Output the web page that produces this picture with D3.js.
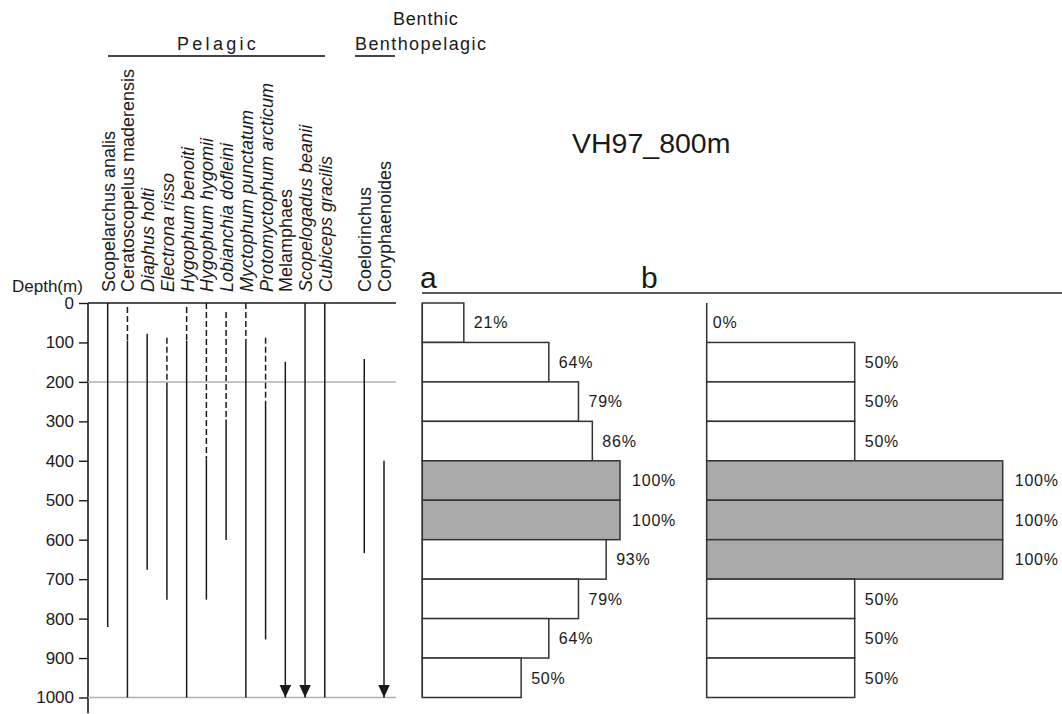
<!DOCTYPE html>
<html>
<head>
<meta charset="utf-8">
<script src="https://cdn.jsdelivr.net/npm/d3@7"></script>
<style>
  html, body { margin: 0; padding: 0; background: #fff; }
  svg { display: block; font-family: "Liberation Sans", Arial, sans-serif; }
</style>
</head>
<body>
<svg id="chart" width="1062" height="714"></svg>
<script>
// ---------- DATA ----------
const species = [
  "Scopelarchus analis", "Ceratoscopelus maderensis", "Diaphus holti", "Electrona risso",
  "Hygophum benoiti", "Hygophum hygomii", "Lobianchia dofleini", "Myctophum punctatum",
  "Protomyctophum arcticum", "Melamphaes", "Scopelogadus beanii", "Cubiceps gracilis",
  "Coelorinchus", "Coryphaenoides"
];
const speciesSlot   = [0, 1, 2, 3, 4, 5, 6, 7, 8, 9, 10, 11, 13, 14];
const speciesItalic = [false, false, true, true, true, true, true, true, true, false, true, true, false, false];
// dashed (uncertain) depth range, null if none
const dashedStart = [null, 10, null, 88, 10, 0, 23, 0, 88, null, null, null, null, null];
const dashedEnd   = [null, 95, null, 215, 95, 397, 295, 98, 250, null, null, null, null, null];
// solid (confirmed) depth range
const solidStart  = [0, 95, 78, 215, 95, 397, 295, 98, 250, 149, 0, 0, 142, 400];
const solidEnd    = [821, 1000, 676, 752, 1000, 752, 601, 1000, 853, 1000, 1000, 1000, 634, 1000];
const hasArrow    = [false, false, false, false, false, false, false, false, false, true, true, false, false, true];

const depthTicks = [0, 100, 200, 300, 400, 500, 600, 700, 800, 900, 1000];
const greyLineDepths = [200, 1000];
const binStart = [0, 100, 200, 300, 400, 500, 600, 700, 800, 900];
const binEnd   = [100, 200, 300, 400, 500, 600, 700, 800, 900, 1000];
const valuesA  = [21, 64, 79, 86, 100, 100, 93, 79, 64, 50];
const valuesB  = [0, 50, 50, 50, 100, 100, 100, 50, 50, 50];

const title = "VH97_800m";

// ---------- SCALES ----------
const svg = d3.select("#chart");
const y = d3.scaleLinear().domain([0, 1000]).range([303, 697.5]);
const xSlot = d3.scaleLinear().domain([0, 14]).range([107.7, 384]);
const xa = d3.scaleLinear().domain([0, 100]).range([422.3, 620]);
const xb = d3.scaleLinear().domain([0, 100]).range([706.7, 1002.7]);

const ink = "#1a1a1a";

// ---------- LEFT PANEL: depth axis ----------
const axisG = svg.append("g").attr("transform", "translate(88,0)")
  .call(d3.axisLeft(y).tickValues(depthTicks).tickSize(9).tickPadding(5).tickFormat(d3.format("d")));
axisG.select(".domain").remove();
axisG.selectAll(".tick line").attr("stroke", ink).attr("stroke-width", 1.4);
axisG.selectAll(".tick text").attr("fill", ink).style("font-size", "17px")
  .style("font-family", "'Liberation Sans', Arial, sans-serif");
svg.append("line").attr("x1", 88).attr("x2", 88).attr("y1", y(0)).attr("y2", y(1040))
  .attr("stroke", ink).attr("stroke-width", 1.6);

svg.append("text").attr("x", 12).attr("y", 292).attr("fill", ink)
  .style("font-size", "17px").text("Depth(m)");

// horizontal reference lines
svg.append("line").attr("x1", 88).attr("x2", 396).attr("y1", y(0)).attr("y2", y(0))
  .attr("stroke", ink).attr("stroke-width", 1.5);
svg.selectAll("line.grey").data(greyLineDepths).enter().append("line")
  .attr("class", "grey")
  .attr("x1", 88).attr("x2", 396).attr("y1", d => y(d)).attr("y2", d => y(d))
  .attr("stroke", "#b0b0b0").attr("stroke-width", 1.5);

// arrow marker
svg.append("defs").append("marker")
  .attr("id", "arrow").attr("viewBox", "0 0 12 13").attr("refX", 6).attr("refY", 13)
  .attr("markerWidth", 12).attr("markerHeight", 13).attr("markerUnits", "userSpaceOnUse")
  .attr("orient", "0")
  .append("path").attr("d", "M0,0 L12,0 L6,13 Z").attr("fill", ink);

const idx = d3.range(species.length);

// dashed segments
svg.selectAll("line.dash").data(idx.filter(i => dashedStart[i] !== null)).enter().append("line")
  .attr("class", "dash")
  .attr("x1", i => xSlot(speciesSlot[i])).attr("x2", i => xSlot(speciesSlot[i]))
  .attr("y1", i => y(dashedStart[i])).attr("y2", i => y(dashedEnd[i]))
  .attr("stroke", ink).attr("stroke-width", 1.5).attr("stroke-dasharray", "6,3");

// solid segments
svg.selectAll("line.solid").data(idx).enter().append("line")
  .attr("class", "solid")
  .attr("x1", i => xSlot(speciesSlot[i])).attr("x2", i => xSlot(speciesSlot[i]))
  .attr("y1", i => y(solidStart[i])).attr("y2", i => y(solidEnd[i]))
  .attr("stroke", ink).attr("stroke-width", 1.5)
  .attr("marker-end", i => hasArrow[i] ? "url(#arrow)" : null);

// species labels (rotated)
svg.selectAll("text.sp").data(idx).enter().append("text")
  .attr("class", "sp")
  .attr("transform", i => `translate(${xSlot(speciesSlot[i]) + 7},292) rotate(-90)`)
  .attr("fill", ink)
  .style("font-size", "18px")
  .style("font-style", i => speciesItalic[i] ? "italic" : "normal")
  .text(i => species[i]);

// group headers
svg.append("text").attr("x", 177).attr("y", 50).attr("fill", ink)
  .style("font-size", "18px").style("letter-spacing", "3.3px").text("Pelagic");
svg.append("line").attr("x1", 108).attr("x2", 325).attr("y1", 56).attr("y2", 56)
  .attr("stroke", "#444").attr("stroke-width", 2.2);
svg.append("text").attr("x", 393).attr("y", 25).attr("fill", ink)
  .style("font-size", "18px").style("letter-spacing", "0.8px").text("Benthic");
svg.append("text").attr("x", 355).attr("y", 50).attr("fill", ink)
  .style("font-size", "18px").style("letter-spacing", "1.4px").text("Benthopelagic");
svg.append("line").attr("x1", 355).attr("x2", 395).attr("y1", 56).attr("y2", 56)
  .attr("stroke", "#444").attr("stroke-width", 2.2);

// title
svg.append("text").attr("x", 572).attr("y", 153).attr("fill", ink)
  .style("font-size", "28.5px").text(title);

// ---------- BAR PANELS ----------
function panel(label, labelX, lineX1, lineX2, xs, values, zeroOffset) {
  svg.append("text").attr("x", labelX).attr("y", 288).attr("fill", ink)
    .style("font-size", "30px").text(label);
  svg.append("line").attr("x1", lineX1).attr("x2", lineX2).attr("y1", 293).attr("y2", 293)
    .attr("stroke", "#5a5a5a").attr("stroke-width", 2);
  // left baseline
  svg.append("line").attr("x1", xs(0)).attr("x2", xs(0)).attr("y1", y(0)).attr("y2", y(1000))
    .attr("stroke", "#333").attr("stroke-width", 1.5);
  const g = svg.append("g");
  const bi = d3.range(values.length);
  g.selectAll("rect").data(bi.filter(i => values[i] > 0)).enter().append("rect")
    .attr("x", xs(0)).attr("y", i => y(binStart[i]))
    .attr("width", i => xs(values[i]) - xs(0))
    .attr("height", i => y(binEnd[i]) - y(binStart[i]))
    .attr("fill", i => values[i] === 100 ? "#aaaaaa" : "#ffffff")
    .attr("stroke", "#333").attr("stroke-width", 1.5);
  g.selectAll("text").data(bi).enter().append("text")
    .attr("x", i => xs(values[i]) + (values[i] === 0 ? zeroOffset : (values[i] === 100 ? 12 : 10)))
    .attr("y", i => (y(binStart[i]) + y(binEnd[i])) / 2)
    .attr("dy", "0.36em")
    .attr("fill", ink)
    .style("font-size", "16px").style("letter-spacing", "0.8px")
    .text(i => values[i] + "%");
}
panel("a", 420, 422, 679, xa, valuesA, 6);
panel("b", 641, 642, 1062, xb, valuesB, 6);
</script>
</body>
</html>
